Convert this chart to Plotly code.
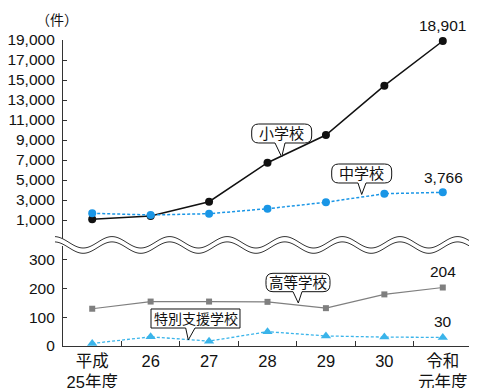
import math
import plotly.graph_objects as go

# ---------------- data ----------------
categories = ["平成25年度", "26", "27", "28", "29", "30", "令和元年度"]
tick_labels = ["平成<br>25年度", "26", "27", "28", "29", "30", "令和<br>元年度"]
elementary = [1070, 1400, 2830, 6730, 9500, 14430, 18901]   # 小学校
junior_high = [1670, 1500, 1630, 2130, 2770, 3630, 3766]    # 中学校
high_school = [130, 155, 155, 154, 132, 180, 204]           # 高等学校
special_ed = [9, 32, 17, 50, 35, 31, 30]                    # 特別支援学校
upper_ticks = [1000, 3000, 5000, 7000, 9000, 11000, 13000, 15000, 17000, 19000]
lower_ticks = [0, 100, 200, 300]

# ---------------- layout geometry (reference-window pixels) ----------------
OFF = 8                      # page body margin
W, H = 477 - OFF, 388 - OFF  # figure size
PL, PT, PW, PH = 63, 40, 409, 306   # plot area in window pixels
L, T = PL - OFF, PT - OFF
R = W - L - PW
B = H - T - PH


def px(x):
    return (x - PL) / PW


def py(y):
    return (PT + PH - y) / PH


FONT = "Liberation Sans, Arial, Noto Sans CJK JP, sans-serif"
BLACK = "#111111"
BLUE = "#1a96e6"
LBLUE = "#3ab4ea"
GRAY = "#7f7f7f"

fig = go.Figure()

fig.add_trace(go.Scatter(x=categories, y=elementary, yaxis="y2", mode="lines+markers",
                         line=dict(color=BLACK, width=1.5),
                         marker=dict(symbol="circle", size=8, color=BLACK),
                         cliponaxis=False, showlegend=False))
fig.add_trace(go.Scatter(x=categories, y=junior_high, yaxis="y2", mode="lines+markers",
                         line=dict(color=BLUE, width=1.5, dash="3px,2px"),
                         marker=dict(symbol="circle", size=8, color=BLUE),
                         cliponaxis=False, showlegend=False))
fig.add_trace(go.Scatter(x=categories, y=high_school, yaxis="y", mode="lines+markers",
                         line=dict(color=GRAY, width=1.2),
                         marker=dict(symbol="square", size=6, color=GRAY),
                         cliponaxis=False, showlegend=False))
fig.add_trace(go.Scatter(x=categories, y=special_ed, yaxis="y", mode="lines+markers",
                         line=dict(color=LBLUE, width=1.3, dash="3px,2px"),
                         marker=dict(symbol="triangle-up", size=9, color=LBLUE),
                         cliponaxis=False, showlegend=False))

# ---------------- wavy axis break ----------------
def wave(x, off):
    return 242.3 + off - 5.7 * math.cos(2 * math.pi * (x - 112) / 57.6)


xs = [55 + i * 1.0 for i in range(0, 423)]
up = [(x, wave(x, 0)) for x in xs]
lo = [(x, wave(x, 5.3)) for x in xs]


def pth(points):
    return "M " + " L ".join(f"{px(x):.5f},{py(y):.5f}" for x, y in points)


shapes = []
shapes.append(dict(type="path", xref="paper", yref="paper", layer="above",
                   path=pth(up + lo[::-1]) + " Z", fillcolor="white",
                   line=dict(width=0)))
for pts in (up, lo):
    shapes.append(dict(type="path", xref="paper", yref="paper", layer="above",
                       path=pth(pts), line=dict(color="#333333", width=1)))


# ---------------- callout bubbles ----------------
def bubble(x0, y0, x1, y1, tl, tr, tip, r):
    def P(x, y):
        return f"{px(x):.5f},{py(y):.5f}"
    if r > 0:
        d = (f"M {P(x0 + r, y0)} L {P(x1 - r, y0)} Q {P(x1, y0)} {P(x1, y0 + r)} "
             f"L {P(x1, y1 - r)} Q {P(x1, y1)} {P(x1 - r, y1)} "
             f"L {P(tr, y1)} L {P(*tip)} L {P(tl, y1)} "
             f"L {P(x0 + r, y1)} Q {P(x0, y1)} {P(x0, y1 - r)} "
             f"L {P(x0, y0 + r)} Q {P(x0, y0)} {P(x0 + r, y0)} Z")
    else:
        d = (f"M {P(x0, y0)} L {P(x1, y0)} L {P(x1, y1)} L {P(tr, y1)} L {P(*tip)} "
             f"L {P(tl, y1)} L {P(x0, y1)} Z")
    return dict(type="path", xref="paper", yref="paper", layer="above", path=d,
                fillcolor="white", line=dict(color=BLACK, width=1))


callouts = [
    ("小学校", (251.7, 124, 311.7, 143, 275, 285, (281.7, 157), 7), 15),
    ("中学校", (331.7, 164, 391.7, 183, 358, 366, (361.7, 194.5), 7), 15),
    ("高等学校", (266, 273.3, 330, 291.7, 293, 302, (298.3, 303), 7), 14.5),
    ("特別支援学校", (151, 309, 240, 328, 185.7, 195, (188.3, 340), 0), 14),
]

annotations = []
for text, geo, fs in callouts:
    shapes.append(bubble(*geo))
    x0, y0, x1, y1 = geo[:4]
    annotations.append(dict(text=text, xref="paper", yref="paper",
                            x=px((x0 + x1) / 2), y=py((y0 + y1) / 2),
                            xanchor="center", yanchor="middle", showarrow=False,
                            font=dict(size=fs, color=BLACK, family=FONT)))

# value labels
for text, (x, y) in [(f"{elementary[-1]:,}", (442.5, 26)),
                     (f"{junior_high[-1]:,}", (443, 177)),
                     (f"{high_school[-1]}", (443, 271)),
                     (f"{special_ed[-1]}", (443, 321))]:
    annotations.append(dict(text=text, xref="paper", yref="paper", x=px(x), y=py(y),
                            xanchor="center", yanchor="middle", showarrow=False,
                            font=dict(size=15.5, color=BLACK, family=FONT)))

annotations.append(dict(text="（件）", xref="paper", yref="paper", x=px(57), y=py(20),
                        xanchor="center", yanchor="middle", showarrow=False,
                        font=dict(size=14, color=BLACK, family=FONT)))

fig.update_layout(
    width=W, height=H,
    margin=dict(l=L, r=R, t=T, b=B, autoexpand=False),
    paper_bgcolor="white", plot_bgcolor="white",
    font=dict(family=FONT, color=BLACK),
    shapes=shapes, annotations=annotations,
    xaxis=dict(type="category", categoryorder="array", categoryarray=categories,
               tickvals=categories, ticktext=tick_labels, range=[-0.5, 6.5],
               anchor="y", showline=True, linecolor="#333333", linewidth=1.2,
               ticks="inside", tickson="boundaries", ticklen=5, tickcolor="#333333",
               showgrid=False, zeroline=False, tickfont=dict(size=16.5),
               tickangle=0, automargin=False),
    yaxis=dict(domain=[0, py(246)], range=[0, 100 / 0.2867], tickvals=lower_ticks,
               showline=True, linecolor="#333333", linewidth=1.2, ticks="inside",
               ticklen=4, tickcolor="#333333", showgrid=False, zeroline=False,
               tickfont=dict(size=15.5), ticklabelstandoff=4, automargin=False),
    yaxis2=dict(domain=[py(242), 1], range=[-1200, 19000], tickvals=upper_ticks,
                tickformat=",d", anchor="x", showline=True, linecolor="#333333",
                linewidth=1.2, ticks="inside", ticklen=4, tickcolor="#333333",
                showgrid=False, zeroline=False, tickfont=dict(size=15.5),
                ticklabelstandoff=4, automargin=False),
)

fig.write_html("out.html")
